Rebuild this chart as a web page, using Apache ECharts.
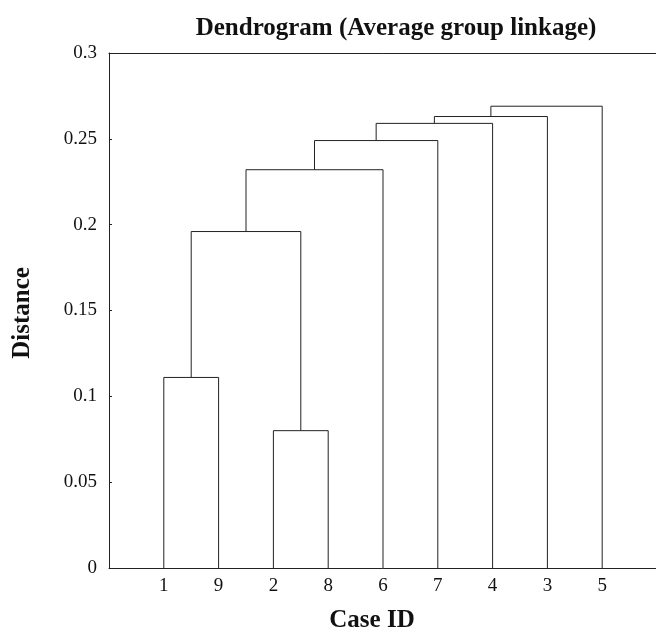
<!DOCTYPE html>
<html>
<head>
<meta charset="utf-8">
<title>Dendrogram</title>
<script src="https://cdn.jsdelivr.net/npm/echarts@6/dist/echarts.min.js"></script>
<style>
  html, body { margin: 0; padding: 0; background: #fff; }
  #main { width: 656px; height: 635px; }
</style>
</head>
<body>
<div id="main"></div>
<script>
// leaf order along the x axis
var caseIds = ["1", "9", "2", "8", "6", "7", "4", "3", "5"];
// merges: node ids 0-8 are leaves (by position), 9+ are merged clusters
var mergeA = [2, 0, 10, 11, 12, 13, 14, 15];
var mergeB = [3, 1, 9, 4, 5, 6, 7, 8];
var mergeHeight = [0.080, 0.111, 0.196, 0.232, 0.249, 0.259, 0.263, 0.269];
var yTicks = [0, 0.05, 0.1, 0.15, 0.2, 0.25, 0.3];

// build bracket data: [xLeft, xRight, hLeft, hRight, h]
var nodeX = caseIds.map(function (c, i) { return i + 1; });
var nodeH = caseIds.map(function () { return 0; });
var links = [];
for (var i = 0; i < mergeA.length; i++) {
  var a = mergeA[i], b = mergeB[i], h = mergeHeight[i];
  links.push([nodeX[a], nodeX[b], nodeH[a], nodeH[b], h]);
  nodeX.push((nodeX[a] + nodeX[b]) / 2);
  nodeH.push(h);
}

var serif = "'Liberation Serif', 'Times New Roman', serif";
var chart = echarts.init(document.getElementById("main"));

chart.setOption({
  animation: false,
  backgroundColor: "#fff",
  grid: { left: 109, width: 548, top: 53, bottom: 67, outerBoundsMode: "none", containLabel: false },
  xAxis: [
    {
      type: "value",
      min: 0,
      max: 10,
      interval: 1,
      position: "bottom",
      splitLine: { show: false },
      axisTick: { show: false },
      axisLine: { show: true, lineStyle: { color: "#222", width: 1 } },
      axisLabel: {
        margin: 9,
        color: "#111",
        fontFamily: serif,
        fontSize: 19,
        formatter: function (v) { return caseIds[v - 1] || ""; }
      }
    },
    {
      type: "value",
      min: 0,
      max: 10,
      position: "top",
      splitLine: { show: false },
      axisTick: { show: false },
      axisLabel: { show: false },
      axisLine: { show: true, lineStyle: { color: "#222", width: 1 } }
    }
  ],
  yAxis: {
    type: "value",
    min: 0,
    max: 0.3,
    interval: 0.05,
    splitLine: { show: false },
    axisLine: { show: true, lineStyle: { color: "#222", width: 1 } },
    axisTick: { show: true, inside: true, length: 3, lineStyle: { color: "#222" } },
    axisLabel: {
      margin: 12,
      color: "#111",
      fontFamily: serif,
      fontSize: 19,
      formatter: function (v) {
        var t = yTicks.find(function (k) { return Math.abs(k - v) < 1e-9; });
        return t === undefined ? "" : String(t);
      }
    }
  },
  series: [
    {
      type: "custom",
      coordinateSystem: "cartesian2d",
      encode: { x: [0, 1], y: [2, 3, 4] },
      data: links,
      renderItem: function (params, api) {
        var p1 = api.coord([api.value(0), api.value(2)]);
        var p2 = api.coord([api.value(0), api.value(4)]);
        var p3 = api.coord([api.value(1), api.value(4)]);
        var p4 = api.coord([api.value(1), api.value(3)]);
        return {
          type: "polyline",
          shape: { points: [p1, p2, p3, p4] },
          style: { stroke: "#222", lineWidth: 1, fill: null }
        };
      }
    }
  ],
  graphic: [
    {
      type: "text",
      x: 396,
      y: 29,
      style: {
        text: "Dendrogram (Average group linkage)",
        font: "bold 25px " + serif,
        fill: "#111",
        textAlign: "center",
        textVerticalAlign: "middle"
      }
    },
    {
      type: "text",
      x: 372,
      y: 621,
      style: {
        text: "Case ID",
        font: "bold 25px " + serif,
        fill: "#111",
        textAlign: "center",
        textVerticalAlign: "middle"
      }
    },
    {
      type: "text",
      x: 23,
      y: 313,
      rotation: Math.PI / 2,
      style: {
        text: "Distance",
        font: "bold 25px " + serif,
        fill: "#111",
        textAlign: "center",
        textVerticalAlign: "middle"
      }
    }
  ]
});
</script>
</body>
</html>
